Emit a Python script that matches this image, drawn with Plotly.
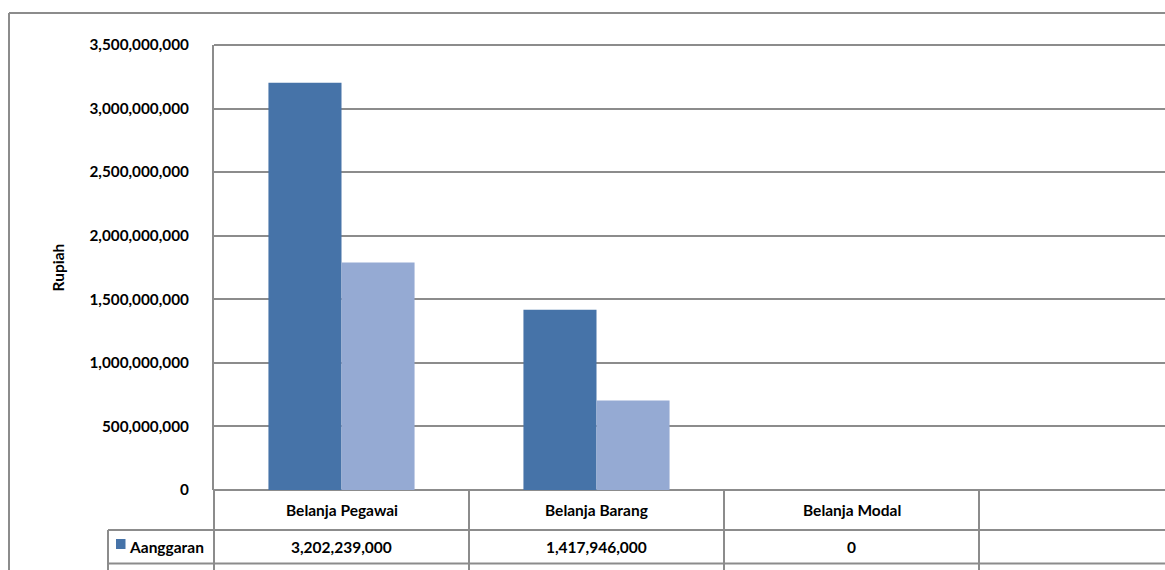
import plotly.graph_objects as go

# ---- data ----
categories = ["Belanja Pegawai", "Belanja Barang", "Belanja Modal"]
all_columns = categories + [" "]          # 4th (empty) data-table column
anggaran = [3202239000, 1417946000, 0]
realisasi = [1790000000, 704000000, 0]
series_names = ["Aanggaran", "Realisasi"]
y_ticks = [0, 500000000, 1000000000, 1500000000, 2000000000, 2500000000, 3000000000, 3500000000]
y_title = "Rupiah"

# ---- styles ----
DARK = "#4673A8"
LIGHT = "#95AAD3"
GRID = "#8C8C8C"
FONT = "Lato"
TXT = "#000000"

W, H = 1165, 570
L, T, B = 214, 45, 80
plot_w = W - L
plot_h = H - T - B
cat_px = 255.0

def px_x(px):
    return (px - L) / plot_w

def px_y(py):
    return (T + plot_h - py) / plot_h

fig = go.Figure()
fig.add_trace(go.Bar(x=categories, y=anggaran, name=series_names[0],
                     marker=dict(color=DARK, line=dict(width=0))))
fig.add_trace(go.Bar(x=categories, y=realisasi, name=series_names[1],
                     marker=dict(color=LIGHT, line=dict(width=0))))

fig.update_layout(
    width=W, height=H,
    margin=dict(l=L, r=0, t=T, b=B, pad=0),
    paper_bgcolor="white", plot_bgcolor="white",
    barmode="group", bargap=0.427, bargroupgap=0,
    showlegend=False,
    font=dict(family=FONT, color=TXT),
)
fig.update_xaxes(
    type="category", categoryorder="array", categoryarray=all_columns,
    range=[-0.5, -0.5 + plot_w / cat_px],
    showticklabels=False, showgrid=False, ticks="", zeroline=False,
    showline=False,
)
fig.update_yaxes(
    range=[0, 3500000000], tickvals=y_ticks, tickformat=",d",
    showgrid=True, gridcolor=GRID, gridwidth=1.5,
    zeroline=True, zerolinecolor=GRID, zerolinewidth=2,
    showline=True, linecolor=GRID, linewidth=2,
    ticks="", ticklabelstandoff=20,
    tickfont=dict(family=FONT, size=15.3, color=TXT, weight="bold"),
)

shapes = []
line = dict(color=GRID, width=2)
# top border of plot area
shapes.append(dict(type="line", xref="paper", yref="paper", x0=0, x1=1, y0=1, y1=1, line=line))
# outer chart-area border
shapes.append(dict(type="line", xref="paper", yref="paper", x0=px_x(9), x1=1.05,
                   y0=px_y(13), y1=px_y(13), line=line))
shapes.append(dict(type="line", xref="paper", yref="paper", x0=px_x(9), x1=px_x(9),
                   y0=px_y(13), y1=-0.3, line=line))
# data table: vertical lines
shapes.append(dict(type="line", xref="paper", yref="paper", x0=0, x1=0, y0=0, y1=-0.3, line=line))
for i in range(len(all_columns)):
    shapes.append(dict(type="line", xref="x", yref="paper", x0=i + 0.5, x1=i + 0.5,
                       y0=0, y1=-0.3, line=line))
legend_left = px_x(108)
shapes.append(dict(type="line", xref="paper", yref="paper", x0=legend_left, x1=legend_left,
                   y0=px_y(530), y1=-0.3, line=line))
# data table: horizontal lines
for py in (530, 563.5):
    shapes.append(dict(type="line", xref="paper", yref="paper", x0=legend_left, x1=1.05,
                       y0=px_y(py), y1=px_y(py), line=line))
# legend key
shapes.append(dict(type="rect", xref="paper", yref="paper", x0=px_x(116), x1=px_x(125.5),
                   y0=px_y(539), y1=px_y(549), fillcolor=DARK, line=dict(width=0)))
fig.update_layout(shapes=shapes)

ann = []
tfont = dict(family=FONT, size=15.5, color=TXT, weight="bold")
for i, c in enumerate(categories):
    ann.append(dict(x=c, xref="x", y=px_y(510), yref="paper", text=c, showarrow=False,
                    xanchor="center", yanchor="middle", font=tfont))
    ann.append(dict(x=c, xref="x", y=px_y(546.5), yref="paper", text=f"{anggaran[i]:,}",
                    showarrow=False, xanchor="center", yanchor="middle", font=tfont))
ann.append(dict(x=px_x(127), xref="paper", y=px_y(546.5), yref="paper", text=series_names[0],
                showarrow=False, xanchor="left", yanchor="middle", font=tfont))
ann.append(dict(x=px_x(57), xref="paper", y=0.5, yref="paper", text=y_title, textangle=-90,
                showarrow=False, xanchor="center", yanchor="middle",
                font=dict(family=FONT, size=15.5, color=TXT, weight="bold")))
fig.update_layout(annotations=ann)

fig.write_html("out.html")
